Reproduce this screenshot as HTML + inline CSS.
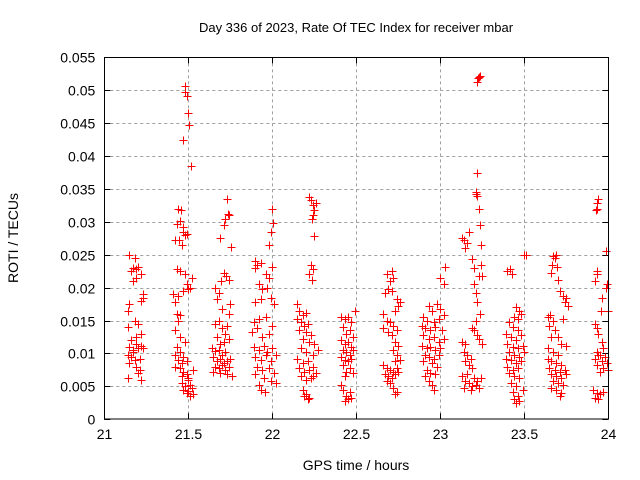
<!DOCTYPE html>
<html><head><meta charset="utf-8"><style>
body{margin:0;background:#fff;}
svg{display:block;font-family:"Liberation Sans",sans-serif;}
</style></head><body>
<svg id="chart" width="640" height="480">
<text x="356" y="32" text-anchor="middle" font-size="13">Day 336 of 2023, Rate Of TEC Index for receiver mbar</text>
<text x="356" y="470" text-anchor="middle" font-size="14">GPS time / hours</text>
<text x="18" y="238" text-anchor="middle" font-size="14" transform="rotate(-90 18 238)">ROTI / TECUs</text>
<g id="grid"></g>
<g id="ticks"></g>
<g id="points" shape-rendering="crispEdges"></g>
<rect x="104.5" y="57.5" width="504" height="361.5" fill="none" stroke="#000" stroke-width="1" shape-rendering="crispEdges"/>
</svg>
<script>
const xTicks=[21,21.5,22,22.5,23,23.5,24];
const xTickLabels=["21","21.5","22","22.5","23","23.5","24"];
const yTicks=[0,0.005,0.01,0.015,0.02,0.025,0.03,0.035,0.04,0.045,0.05,0.055];
const yTickLabels=["0","0.005","0.01","0.015","0.02","0.025","0.03","0.035","0.04","0.045","0.05","0.055"];
const c1=[[21.15,0.025],[21.18,0.0245],[21.16,0.0225],[21.17,0.023],[21.19,0.0228],[21.2,0.0232],[21.17,0.021],[21.19,0.0215],[21.22,0.022],[21.23,0.019],[21.22,0.018],[21.23,0.0185],[21.14,0.0165],[21.15,0.0175],[21.18,0.015],[21.2,0.0145],[21.22,0.013],[21.14,0.014],[21.16,0.012],[21.19,0.0115],[21.15,0.011],[21.17,0.0105],[21.2,0.0108],[21.22,0.0112],[21.14,0.0098],[21.16,0.0095],[21.18,0.009],[21.21,0.0092],[21.23,0.0108],[21.15,0.0085],[21.19,0.008],[21.21,0.0075],[21.14,0.0063],[21.2,0.007],[21.22,0.006],[21.17,0.0102],[21.19,0.0125]];
const c2=[[21.48,0.0507],[21.479,0.0498],[21.49,0.0492],[21.5,0.0466],[21.505,0.0447],[21.47,0.0425],[21.515,0.0385],[21.44,0.032],[21.455,0.0318],[21.43,0.0297],[21.45,0.0302],[21.47,0.0292],[21.42,0.0273],[21.445,0.0272],[21.47,0.0285],[21.48,0.028],[21.46,0.0265],[21.49,0.0282],[21.48,0.022],[21.43,0.0228],[21.45,0.0225],[21.41,0.019],[21.44,0.0188],[21.47,0.0195],[21.49,0.0205],[21.51,0.02],[21.5,0.0198],[21.52,0.0215],[21.42,0.0178],[21.43,0.016],[21.45,0.0158],[21.44,0.015],[21.42,0.0135],[21.45,0.0125],[21.48,0.0118],[21.43,0.011],[21.42,0.0098],[21.45,0.0102],[21.47,0.0095],[21.44,0.009],[21.46,0.0085],[21.49,0.0088],[21.42,0.008],[21.45,0.0078],[21.47,0.0072],[21.49,0.0068],[21.5,0.006],[21.46,0.0055],[21.48,0.005],[21.51,0.0052],[21.47,0.0045],[21.5,0.0043],[21.52,0.0048],[21.49,0.004],[21.51,0.0035],[21.53,0.0038],[21.5,0.0063],[21.53,0.0075],[21.46,0.0065]];
const c3=[[21.73,0.0335],[21.735,0.0312],[21.72,0.0305],[21.715,0.0295],[21.745,0.031],[21.69,0.0275],[21.755,0.0262],[21.71,0.0223],[21.725,0.0218],[21.695,0.021],[21.74,0.0212],[21.66,0.02],[21.68,0.0192],[21.67,0.0182],[21.75,0.0175],[21.745,0.016],[21.7,0.0168],[21.68,0.015],[21.66,0.0145],[21.7,0.0138],[21.73,0.0142],[21.67,0.0125],[21.72,0.013],[21.69,0.0115],[21.71,0.0118],[21.74,0.0122],[21.64,0.0108],[21.66,0.0103],[21.68,0.0105],[21.7,0.0098],[21.72,0.0102],[21.75,0.0092],[21.65,0.0095],[21.67,0.0088],[21.69,0.0092],[21.71,0.0085],[21.73,0.0088],[21.66,0.008],[21.68,0.0078],[21.7,0.0083],[21.72,0.0075],[21.74,0.008],[21.65,0.0072],[21.69,0.007],[21.73,0.0068],[21.76,0.0065]];
const c4=[[22.0,0.032],[22.005,0.0298],[21.99,0.0285],[21.98,0.0265],[21.895,0.024],[21.91,0.0235],[21.93,0.0238],[21.9,0.023],[21.96,0.022],[21.98,0.0215],[22.0,0.0232],[21.92,0.0205],[21.94,0.0198],[21.97,0.02],[21.9,0.0178],[21.935,0.0182],[21.99,0.0185],[22.01,0.0175],[21.89,0.0148],[21.92,0.0152],[21.96,0.0155],[21.88,0.0132],[21.91,0.0138],[21.94,0.0125],[21.98,0.013],[22.0,0.0142],[21.89,0.011],[21.92,0.0105],[21.95,0.0112],[21.97,0.0102],[22.0,0.0108],[21.9,0.0095],[21.93,0.009],[21.96,0.0098],[21.99,0.0088],[22.02,0.0098],[21.91,0.008],[21.94,0.0075],[21.98,0.0078],[22.01,0.007],[21.9,0.0068],[21.95,0.0062],[21.99,0.0058],[22.02,0.0055],[21.93,0.0045],[21.955,0.0042],[21.92,0.0052]];
const c5=[[22.22,0.0338],[22.23,0.0333],[22.245,0.0325],[22.25,0.0318],[22.26,0.0328],[22.24,0.031],[22.235,0.0305],[22.25,0.0278],[22.24,0.0228],[22.23,0.0235],[22.22,0.022],[22.235,0.0212],[22.15,0.0175],[22.16,0.0165],[22.18,0.0158],[22.2,0.0162],[22.15,0.0152],[22.17,0.0148],[22.19,0.0142],[22.21,0.0145],[22.16,0.0135],[22.2,0.0132],[22.23,0.0128],[22.18,0.0122],[22.22,0.0118],[22.25,0.0115],[22.17,0.0108],[22.2,0.0102],[22.24,0.0098],[22.27,0.0105],[22.15,0.0092],[22.18,0.0085],[22.21,0.0088],[22.24,0.008],[22.16,0.0078],[22.19,0.0072],[22.22,0.0075],[22.26,0.007],[22.17,0.0065],[22.2,0.006],[22.23,0.0062],[22.18,0.0045],[22.2,0.0038],[22.22,0.0032],[22.21,0.003],[22.19,0.0035],[22.24,0.0065]];
const c6=[[22.49,0.0165],[22.41,0.0155],[22.43,0.0152],[22.45,0.0155],[22.47,0.0148],[22.42,0.014],[22.46,0.0135],[22.44,0.013],[22.48,0.0125],[22.41,0.012],[22.43,0.0115],[22.45,0.0118],[22.47,0.011],[22.42,0.0105],[22.44,0.0102],[22.46,0.0098],[22.48,0.0105],[22.41,0.0095],[22.43,0.009],[22.45,0.0088],[22.47,0.0092],[22.42,0.0082],[22.46,0.0078],[22.44,0.0072],[22.48,0.007],[22.43,0.0065],[22.41,0.0052],[22.42,0.0045],[22.44,0.0035],[22.43,0.0028],[22.45,0.003],[22.47,0.0032],[22.46,0.0042]];
const c7=[[22.71,0.0225],[22.68,0.022],[22.7,0.021],[22.72,0.0215],[22.69,0.0198],[22.71,0.0195],[22.74,0.0182],[22.75,0.0172],[22.73,0.0165],[22.76,0.0178],[22.67,0.0192],[22.66,0.016],[22.68,0.015],[22.7,0.0148],[22.72,0.0142],[22.66,0.0138],[22.69,0.0132],[22.71,0.0128],[22.74,0.0135],[22.73,0.0118],[22.75,0.0112],[22.72,0.0105],[22.74,0.0098],[22.76,0.009],[22.73,0.0088],[22.66,0.0082],[22.68,0.0078],[22.7,0.0075],[22.72,0.0072],[22.74,0.0078],[22.67,0.0068],[22.69,0.0065],[22.71,0.0062],[22.73,0.0068],[22.75,0.0072],[22.7,0.0055],[22.72,0.0048],[22.74,0.0042],[22.73,0.0038],[22.68,0.0058]];
const c8=[[23.03,0.0232],[23.0,0.0215],[23.02,0.0205],[22.98,0.0175],[23.0,0.0168],[22.93,0.0172],[22.95,0.0165],[23.02,0.0158],[22.9,0.0155],[22.92,0.015],[22.96,0.0148],[22.99,0.0152],[22.89,0.0142],[22.91,0.0138],[22.94,0.0135],[22.97,0.014],[23.01,0.0135],[22.9,0.0128],[22.93,0.0122],[22.96,0.0125],[22.99,0.0118],[23.02,0.0122],[22.89,0.0112],[22.92,0.0108],[22.94,0.011],[22.97,0.0105],[23.0,0.0108],[22.91,0.0098],[22.93,0.0095],[22.96,0.0092],[22.99,0.0098],[22.9,0.0088],[22.95,0.0085],[22.98,0.008],[22.92,0.0075],[22.94,0.007],[22.97,0.0068],[22.91,0.0065],[22.95,0.0052],[22.96,0.0045],[22.93,0.0058]];
const c9=[[23.22,0.0512],[23.225,0.0518],[23.23,0.052],[23.235,0.0522],[23.22,0.0375],[23.21,0.0345],[23.215,0.0342],[23.22,0.034],[23.23,0.032],[23.235,0.0295],[23.13,0.0275],[23.14,0.0272],[23.16,0.0268],[23.15,0.026],[23.17,0.0285],[23.245,0.0265],[23.19,0.0243],[23.2,0.023],[23.24,0.0235],[23.23,0.0218],[23.25,0.0218],[23.2,0.0205],[23.21,0.0192],[23.22,0.0178],[23.235,0.016],[23.21,0.015],[23.19,0.0138],[23.2,0.0135],[23.22,0.0128],[23.23,0.0122],[23.13,0.0118],[23.15,0.0115],[23.25,0.0115],[23.14,0.0102],[23.16,0.0098],[23.18,0.0092],[23.15,0.0088],[23.17,0.0082],[23.19,0.0078],[23.13,0.0065],[23.15,0.0058],[23.17,0.0055],[23.19,0.005],[23.21,0.0052],[23.23,0.0048],[23.14,0.0048],[23.18,0.0045],[23.22,0.0058],[23.24,0.0062],[23.16,0.0068],[23.2,0.0062]];
const c10=[[23.5,0.025],[23.51,0.025],[23.4,0.0225],[23.415,0.0228],[23.425,0.022],[23.45,0.017],[23.47,0.0165],[23.44,0.0155],[23.46,0.0152],[23.48,0.016],[23.41,0.0148],[23.43,0.014],[23.46,0.0135],[23.39,0.013],[23.42,0.0125],[23.45,0.012],[23.48,0.0128],[23.4,0.0115],[23.43,0.011],[23.46,0.0108],[23.49,0.0112],[23.41,0.0102],[23.44,0.0098],[23.47,0.0095],[23.5,0.0102],[23.39,0.0092],[23.42,0.009],[23.45,0.0085],[23.48,0.0088],[23.4,0.008],[23.43,0.0075],[23.46,0.0078],[23.41,0.007],[23.44,0.0065],[23.47,0.0062],[23.42,0.0055],[23.45,0.005],[23.43,0.0042],[23.46,0.0035],[23.44,0.003],[23.47,0.0028],[23.45,0.0025],[23.49,0.0045]];
const c11=[[23.67,0.0248],[23.68,0.0245],[23.69,0.025],[23.665,0.0235],[23.695,0.0232],[23.66,0.0222],[23.7,0.0212],[23.71,0.0195],[23.73,0.0188],[23.75,0.0185],[23.76,0.0172],[23.74,0.0178],[23.64,0.0155],[23.655,0.0158],[23.67,0.015],[23.73,0.0152],[23.65,0.0142],[23.68,0.0135],[23.7,0.0125],[23.66,0.0125],[23.72,0.0115],[23.75,0.0112],[23.64,0.0108],[23.67,0.0102],[23.7,0.0098],[23.64,0.0092],[23.66,0.0088],[23.69,0.0085],[23.72,0.0082],[23.65,0.0078],[23.68,0.0075],[23.71,0.0072],[23.74,0.0075],[23.66,0.0068],[23.69,0.0065],[23.72,0.0062],[23.67,0.0058],[23.7,0.0055],[23.73,0.0052],[23.66,0.0048],[23.69,0.0045],[23.72,0.004],[23.71,0.0035],[23.75,0.0068]];
const c12=[[23.94,0.0335],[23.93,0.0328],[23.935,0.032],[23.925,0.0318],[23.985,0.0255],[23.93,0.0225],[23.935,0.022],[23.92,0.021],[23.99,0.0205],[23.985,0.02],[23.96,0.0185],[23.955,0.0165],[24.0,0.0165],[23.92,0.0145],[23.93,0.0138],[23.94,0.013],[23.96,0.0118],[23.97,0.0108],[23.93,0.0102],[23.95,0.0098],[23.98,0.0095],[23.92,0.0092],[23.94,0.0098],[23.96,0.0088],[23.99,0.0085],[23.93,0.0082],[23.97,0.0078],[24.0,0.0075],[23.95,0.0072],[23.91,0.0045],[23.93,0.004],[23.95,0.0038],[23.97,0.0042],[23.92,0.0032],[23.94,0.003]];
const clusters=[c1,c2,c3,c4,c5,c6,c7,c8,c9,c10,c11,c12];

const NS="http://www.w3.org/2000/svg";
const X0=104.3,X1=608.3,Y0=419.2,Y1=57.4;
function xs(v){return X0+(v-21)/3*(X1-X0);}
function ys(v){return Y0-(v/0.055)*(Y0-Y1);}
function mk(tag,attrs,parent){const e=document.createElementNS(NS,tag);for(const k in attrs)e.setAttribute(k,attrs[k]);parent.appendChild(e);return e;}
const grid=document.getElementById('grid'),ticks=document.getElementById('ticks'),pts=document.getElementById('points');
xTicks.forEach((t,i)=>{
  const x=Math.round(xs(t))+0.5;
  if(i>0&&i<xTicks.length-1){const g=mk('line',{x1:x,x2:x,y1:Y1,y2:Y0,stroke:'#a0a0a0','stroke-dasharray':'3,3'},grid);
  
  }
  mk('line',{x1:x,x2:x,y1:Y0,y2:Y0-6,stroke:'#000'},ticks);
  mk('line',{x1:x,x2:x,y1:Y1,y2:Y1+6,stroke:'#000'},ticks);
  const l=mk('text',{x:x,y:Y0+20,'text-anchor':'middle','font-size':'14'},ticks);l.textContent=xTickLabels[i];
  
  
});
yTicks.forEach((t,i)=>{
  const y=Math.round(ys(t))+0.5;
  if(i>0&&i<yTicks.length-1){const g=mk('line',{x1:X0,x2:X1,y1:y,y2:y,stroke:'#a0a0a0','stroke-dasharray':'3,3'},grid);
  
  }
  mk('line',{x1:X0,x2:X0+6,y1:y,y2:y,stroke:'#000'},ticks);
  mk('line',{x1:X1,x2:X1-6,y1:y,y2:y,stroke:'#000'},ticks);
  const l=mk('text',{x:X0-9,y:y+5,'text-anchor':'end','font-size':'14'},ticks);l.textContent=yTickLabels[i];
  
  
});
clusters.forEach(c=>c.forEach(p=>{
  const x=Math.round(xs(p[0]))+0.5,y=Math.round(ys(p[1]))+0.5;
  const m=mk('path',{d:`M${x-4},${y}H${x+4}M${x},${y-4}V${y+4}`,stroke:'#ff0000','stroke-width':'1',fill:'none'},pts);
  
  
}));
</script>
</body></html>
